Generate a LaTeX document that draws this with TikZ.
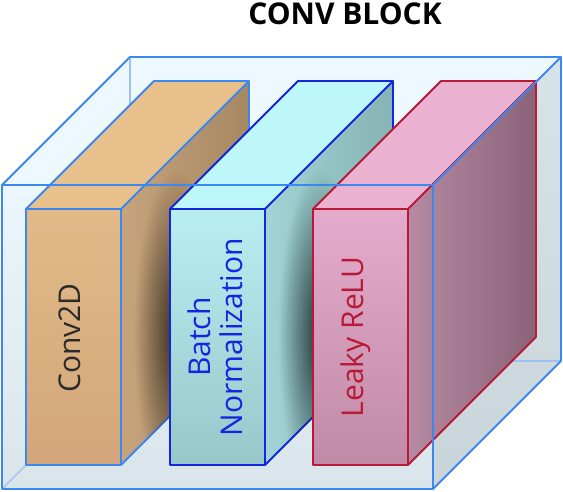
\documentclass[tikz,border=0pt]{standalone}
\usepackage{fontspec}
\setmainfont{Open Sans}
\usetikzlibrary{fadings}
\definecolor{boxline}{HTML}{3B88F0}
\definecolor{boxhidden}{HTML}{9CC0F2}
\definecolor{boxtop}{HTML}{EDF9FE}
\definecolor{boxfronttop}{HTML}{EBF7FC}
\definecolor{boxfrontbot}{HTML}{D9E5EB}
\definecolor{boxsidetop}{HTML}{D7E3E9}
\definecolor{boxsidebot}{HTML}{C9D5DB}
\definecolor{convtext}{HTML}{2B2B2B}
\definecolor{convfa}{HTML}{E2BA88}
\definecolor{convfb}{HTML}{D2A67A}
\definecolor{convtop}{HTML}{E8C08C}
\definecolor{convsa}{HTML}{C6A47C}
\definecolor{convsb}{HTML}{A58762}
\definecolor{convshadow}{HTML}{3A2E20}
\definecolor{bnline}{HTML}{1226E0}
\definecolor{bnfa}{HTML}{B8EFF3}
\definecolor{bnfb}{HTML}{98C7C9}
\definecolor{bntop}{HTML}{BDF7FB}
\definecolor{bnsa}{HTML}{A2D4D5}
\definecolor{bnsb}{HTML}{86B3B4}
\definecolor{bnshadow}{HTML}{1E3436}
\definecolor{reluline}{HTML}{B81A36}
\definecolor{relufa}{HTML}{E5ABCC}
\definecolor{relufb}{HTML}{C08AA6}
\definecolor{relutop}{HTML}{EBB1D1}
\definecolor{relusa}{HTML}{B58AA2}
\definecolor{relusb}{HTML}{8A6379}
\tikzfading[name=softblob, inner color=transparent!0, outer color=transparent!100]

% one slab: #1 left x, #2/#3 front top/bottom, #4 top face, #5/#6 side light/dark, #7 edge
\newcommand{\slab}[7]{%
  \fill[#4] (#1,209) -- (#1+128,81) -- (#1+223,81) -- (#1+95,209) -- cycle;
  \shade[left color=#5, right color=#6] (#1+95,209) -- (#1+223,81) -- (#1+223,337) -- (#1+95,465) -- cycle;
  \shade[top color=#2, bottom color=#3] (#1,209) rectangle (#1+95,465);
  \draw[slabedge, #7] (#1,209) rectangle (#1+95,465);
  \draw[slabedge, #7] (#1,209) -- (#1+128,81) -- (#1+223,81) -- (#1+95,209);
  \draw[slabedge, #7] (#1+223,81) -- (#1+223,337) -- (#1+95,465);
}
% shadow cast on a slab's side by the next one: #1 left x of the slab, #2 colour
\newcommand{\slabshadow}[2]{%
  \begin{scope}
    \clip (#1+96,209) -- (#1+223,81) -- (#1+223,337) -- (#1+96,465) -- cycle;
    \fill[#2, path fading=softblob] (#1+150,335) ellipse (42 and 165);
  \end{scope}
}

\begin{document}
\begin{tikzpicture}[x=1pt, y=-1pt,
    boxedge/.style={boxline, line width=1.8pt, line join=round},
    hiddenedge/.style={boxhidden, line width=1.4pt},
    slabedge/.style={line width=1.8pt, line join=round},
    label/.style={rotate=90, align=center, font=\fontsize{30}{32}\selectfont}]
  \useasboundingbox (0,0) rectangle (563,491);
  %Title
  \node[font=\bfseries\fontsize{30}{34}\selectfont] (title) at (345,14) {CONV BLOCK};
  %Box faces
  \fill[boxtop] (2,185) -- (130,57) -- (561,57) -- (433,185) -- cycle;
  \shade[top color=boxsidetop, bottom color=boxsidebot] (433,185) -- (561,57) -- (561,361) -- (433,489) -- cycle;
  \shade[top color=boxfronttop, bottom color=boxfrontbot] (2,185) rectangle (433,489);
  %Hidden edges
  \draw[hiddenedge] (130,57) -- (130,361) -- (561,361);
  \draw[hiddenedge] (130,361) -- (2,489);
  %Slabs, each with the shadow of the next one
  \slab{26}{convfa}{convfb}{convtop}{convsa}{convsb}{boxline}
  \slabshadow{26}{convshadow}
  \slab{170}{bnfa}{bnfb}{bntop}{bnsa}{bnsb}{bnline}
  \slabshadow{170}{bnshadow}
  \slab{313}{relufa}{relufb}{relutop}{relusa}{relusb}{reluline}
  %Labels
  \node[label, text=convtext] (conv) at (70,338) {Conv2D};
  \node[label, text=bnline] (bn) at (215,337) {Batch\\Normalization};
  \node[label, text=reluline] (relu) at (356,337) {Leaky ReLU};
  %Visible box edges
  \draw[boxedge] (2,185) rectangle (433,489);
  \draw[boxedge] (2,185) -- (130,57) -- (561,57) -- (433,185);
  \draw[boxedge] (561,57) -- (561,361) -- (433,489);
\end{tikzpicture}
\end{document}
